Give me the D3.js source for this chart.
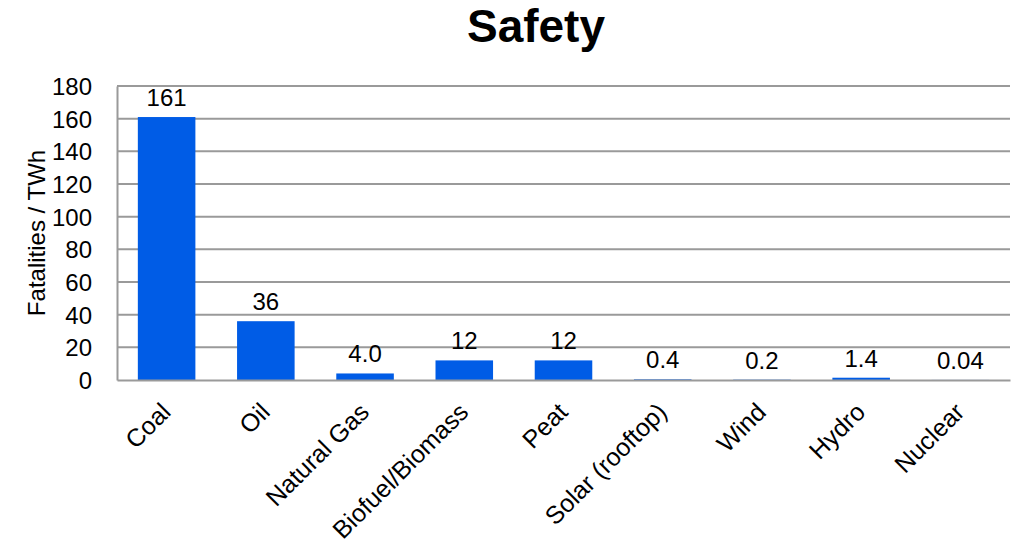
<!DOCTYPE html>
<html>
<head>
<meta charset="utf-8">
<script src="https://cdn.jsdelivr.net/npm/d3@7"></script>
<style>
  body { margin: 0; background: #fff; }
  text { font-family: Arial, "Liberation Sans", sans-serif; fill: #000; }
</style>
</head>
<body>
<div id="chart"></div>
<script>
// datos
const categories = ['Coal', 'Oil', 'Natural Gas', 'Biofuel/Biomass', 'Peat', 'Solar (rooftop)', 'Wind', 'Hydro', 'Nuclear']
const values = [161, 36, 4.0, 12, 12, 0.4, 0.2, 1.4, 0.04]
const valueLabels = ['161', '36', '4.0', '12', '12', '0.4', '0.2', '1.4', '0.04']
const yTicks = [0, 20, 40, 60, 80, 100, 120, 140, 160, 180]

// lienzo
const width = 1011
const height = 548
const margin = { top: 86, right: 1, bottom: 168, left: 117 }
const innerW = width - margin.left - margin.right
const innerH = height - margin.top - margin.bottom

const svg = d3.select('#chart')
  .append('svg')
  .attr('width', width)
  .attr('height', height)

// titulo
svg.append('text')
  .attr('x', 536)
  .attr('y', 42)
  .attr('text-anchor', 'middle')
  .style('font-size', '46px')
  .style('font-weight', 'bold')
  .text('Safety')

const g = svg.append('g')
  .attr('transform', `translate(${margin.left},${margin.top})`)

// escalas
const xScale = d3.scaleBand()
  .domain(categories)
  .range([0, innerW])
  .paddingInner(0.42)
  .paddingOuter(0.21)

const yScale = d3.scaleLinear()
  .domain([0, 180])
  .range([innerH, 0])

// grid
g.append('g')
  .selectAll('line')
  .data(yTicks.filter(d => d > 0))
  .enter()
  .append('line')
  .attr('x1', 0)
  .attr('x2', innerW)
  .attr('y1', d => yScale(d))
  .attr('y2', d => yScale(d))
  .attr('stroke', '#9a9a9a')
  .attr('stroke-width', 2)

// eje y
const yAxis = d3.axisLeft(yScale)
  .tickValues(yTicks)
  .tickSize(0)
  .tickPadding(25)
g.append('g')
  .attr('class', 'y-axis')
  .call(yAxis)
  .call(s => s.select('.domain').attr('stroke', '#9a9a9a').attr('stroke-width', 2))
  .call(s => s.selectAll('text').style('font-size', '24px').attr('dy', '0.36em'))

// barras
g.selectAll('rect.bar')
  .data(values)
  .enter()
  .append('rect')
  .attr('class', 'bar')
  .attr('x', (d, i) => xScale(categories[i]))
  .attr('width', xScale.bandwidth())
  .attr('y', d => yScale(d))
  .attr('height', d => innerH - yScale(d))
  .attr('fill', '#005ce6')

// eje x
const xAxis = d3.axisBottom(xScale).tickSize(0).tickFormat('')
g.append('g')
  .attr('transform', `translate(0,${innerH})`)
  .call(xAxis)
  .call(s => s.select('.domain').attr('stroke', '#9a9a9a').attr('stroke-width', 2))

// etiquetas de categorias
g.append('g')
  .selectAll('text')
  .data(categories)
  .enter()
  .append('text')
  .attr('transform', d => `translate(${xScale(d) + xScale.bandwidth() / 2 - 7},${innerH + 21}) rotate(-45)`)
  .attr('text-anchor', 'end')
  .attr('dy', '0.71em')
  .style('font-size', '25px')
  .text(d => d)

// etiquetas de valores
g.append('g')
  .selectAll('text')
  .data(values)
  .enter()
  .append('text')
  .attr('x', (d, i) => xScale(categories[i]) + xScale.bandwidth() / 2)
  .attr('y', d => yScale(d) - 11)
  .attr('text-anchor', 'middle')
  .style('font-size', '24px')
  .text((d, i) => valueLabels[i])

// titulo eje y
svg.append('text')
  .attr('transform', `translate(45,${margin.top + innerH / 2}) rotate(-90)`)
  .attr('text-anchor', 'middle')
  .style('font-size', '24px')
  .text('Fatalities / TWh')
</script>
</body>
</html>
